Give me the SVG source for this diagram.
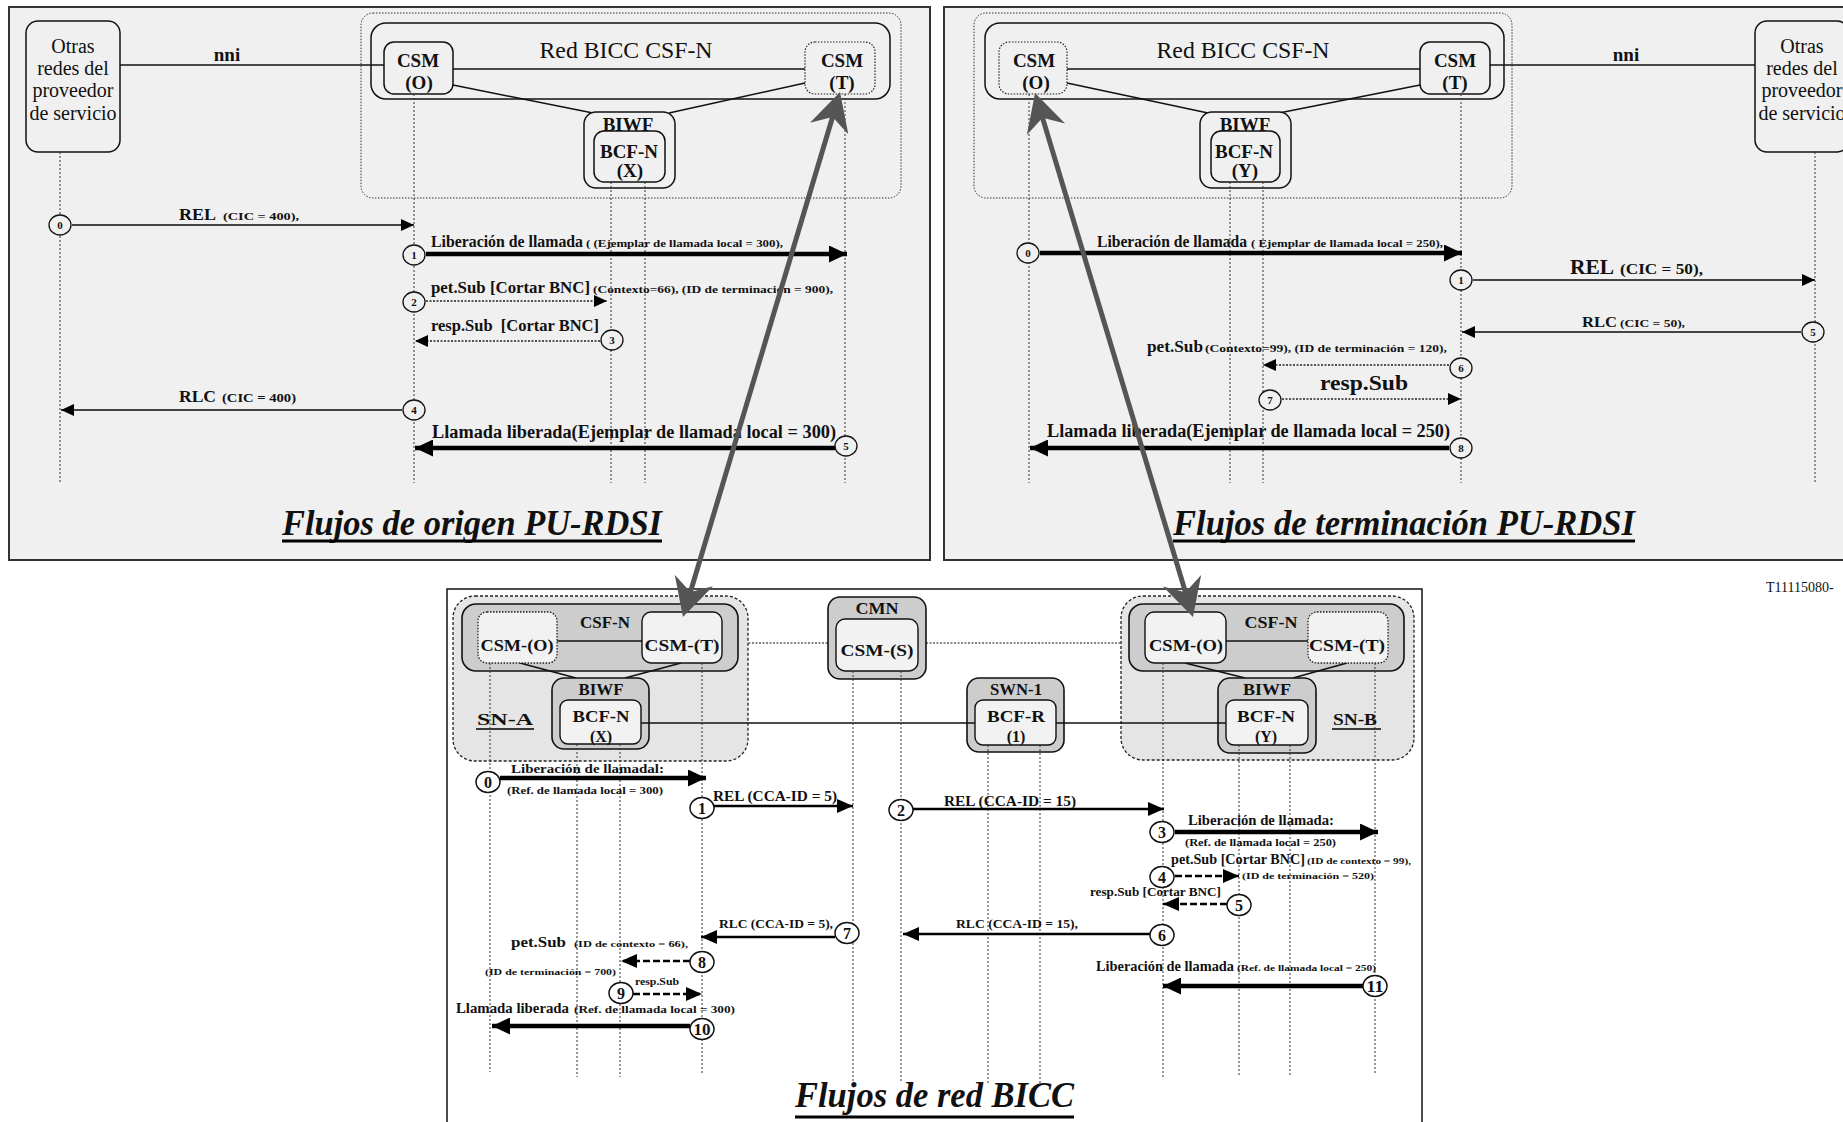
<svg xmlns="http://www.w3.org/2000/svg" width="1843" height="1122" viewBox="0 0 1843 1122">
  <style>
    text { font-family: "Liberation Serif", "Times New Roman", serif; fill: #111; }
    .b { font-weight: bold; }
    .t { font-weight: bold; font-style: italic; font-size: 35px; }
    .panel { fill: #f0f0f0; stroke: #333; stroke-width: 2; }
    .box { fill: #f0f0f0; stroke: #111; stroke-width: 1.5; }
    .dbox { fill: #f0f0f0; stroke: #222; stroke-width: 1.2; stroke-dasharray: 1.5 1.5; }
    .area { fill: none; stroke: #333; stroke-width: 1; stroke-dasharray: 1.5 1.5; }
    .sn { fill: #e5e5e5; stroke: #222; stroke-width: 1.3; stroke-dasharray: 3 2; }
    .gbox { fill: #cdcdcd; stroke: #111; stroke-width: 1.6; }
    .wbox { fill: #f2f2f2; stroke: #111; stroke-width: 1.4; }
    .wdbox { fill: #f2f2f2; stroke: #222; stroke-width: 1.3; stroke-dasharray: 1.5 1.5; }
    .link { stroke: #111; stroke-width: 1.5; fill: none; }
    .dlink { stroke: #111; stroke-width: 1.2; stroke-dasharray: 2 1.5; fill: none; }
    .ll { stroke: #333; stroke-width: 1; stroke-dasharray: 2 2; fill: none; }
    .thin { stroke: #444; stroke-width: 2; fill: none; marker-end: url(#ah); }
    .thick { stroke: #000; stroke-width: 4.5; fill: none; marker-end: url(#aht); }
    .dot { stroke: #222; stroke-width: 1.6; stroke-dasharray: 2 1.5; fill: none; marker-end: url(#ah); }
    .med { stroke: #000; stroke-width: 2.6; fill: none; marker-end: url(#ahm); }
    .dash { stroke: #000; stroke-width: 2.5; stroke-dasharray: 7 3; fill: none; marker-end: url(#ahm); }
    .big { stroke: #555; stroke-width: 5; fill: none; marker-start: url(#bigh); marker-end: url(#bigh); }
    .n1 { fill: #f0f0f0; stroke: #111; stroke-width: 1.3; }
    .n2 { fill: #fff; stroke: #111; stroke-width: 1.5; }
    .ul { stroke: #000; stroke-width: 3; }
  </style>
  <defs>
    <marker id="ah" viewBox="0 0 13 12" refX="13" refY="6" markerWidth="13" markerHeight="12" markerUnits="userSpaceOnUse" orient="auto">
      <path d="M0,0 L13,6 L0,12 z" fill="#000"/>
    </marker>
    <marker id="ahm" viewBox="0 0 16 14" refX="16" refY="7" markerWidth="16" markerHeight="14" markerUnits="userSpaceOnUse" orient="auto">
      <path d="M0,0 L16,7 L0,14 z" fill="#000"/>
    </marker>
    <marker id="aht" viewBox="0 0 18 17" refX="18" refY="8.5" markerWidth="18" markerHeight="17" markerUnits="userSpaceOnUse" orient="auto">
      <path d="M0,0 L18,8.5 L0,17 z" fill="#000"/>
    </marker>
    <marker id="bigh" viewBox="-20 -22 42 44" refX="0" refY="0" markerWidth="42" markerHeight="44" markerUnits="userSpaceOnUse" orient="auto-start-reverse">
      <path d="M20,0 L-18,-20 L-6,0 L-18,20 z" fill="#555"/>
    </marker>
  </defs>

  <rect width="1843" height="1122" fill="#fff"/>

  <!-- ===== Originating PU-RDSI flows ===== -->
  <rect class="panel" x="9" y="7" width="921" height="553"/>
  <rect class="area" x="361" y="13" width="540" height="185" rx="12"/>

  <g id="p1-otras">
    <rect class="box" x="26" y="21" width="94" height="131" rx="12"/>
    <text x="73" y="53" font-size="20" text-anchor="middle">Otras</text>
    <text x="73" y="75" font-size="20" text-anchor="middle">redes del</text>
    <text x="73" y="97" font-size="20" text-anchor="middle">proveedor</text>
    <text x="73" y="120" font-size="20" text-anchor="middle">de servicio</text>
  </g>
  <g id="p1-csfn">
    <rect class="box" x="371" y="23" width="519" height="76" rx="15"/>
    <text x="626" y="58" font-size="23" text-anchor="middle" textLength="173" lengthAdjust="spacingAndGlyphs">Red BICC CSF-N</text>
  </g>
  <g id="p1-links">
    <line class="link" x1="120" y1="65" x2="384" y2="65"/>
    <line class="link" x1="453" y1="69" x2="805" y2="69"/>
    <line class="link" x1="453" y1="85" x2="593" y2="113"/>
    <line class="link" x1="805" y1="83" x2="669" y2="113"/>
    <text x="227" y="61" class="b" font-size="19" text-anchor="middle">nni</text>
  </g>
  <g id="p1-csm-o">
    <rect class="box" x="384" y="42" width="69" height="52" rx="10"/>
    <text x="418" y="67" class="b" font-size="19" text-anchor="middle">CSM</text>
    <text x="419" y="89" class="b" font-size="19" text-anchor="middle">(O)</text>
  </g>
  <g id="p1-csm-t">
    <rect class="dbox" x="805" y="42" width="70" height="52" rx="10"/>
    <text x="842" y="67" class="b" font-size="19" text-anchor="middle">CSM</text>
    <text x="842" y="89" class="b" font-size="19" text-anchor="middle">(T)</text>
  </g>
  <g id="p1-biwf">
    <rect class="box" x="584" y="112" width="91" height="76" rx="12"/>
    <text x="628" y="131" class="b" font-size="19" text-anchor="middle">BIWF</text>
    <rect class="box" x="594" y="131" width="71" height="51" rx="10"/>
    <text x="629" y="158" class="b" font-size="19" text-anchor="middle">BCF-N</text>
    <text x="630" y="177" class="b" font-size="19" text-anchor="middle">(X)</text>
  </g>

  <g id="p1-lifelines">
    <line class="ll" x1="60" y1="152" x2="60" y2="483"/>
    <line class="ll" x1="414" y1="94" x2="414" y2="483"/>
    <line class="ll" x1="611" y1="182" x2="611" y2="483"/>
    <line class="ll" x1="645" y1="182" x2="645" y2="483"/>
    <line class="ll" x1="845" y1="94" x2="845" y2="483"/>
  </g>

  <g id="p1-messages">
    <line class="thin" x1="72" y1="225" x2="414" y2="225"/>
    <line class="thick" x1="426" y1="254" x2="847" y2="254"/>
    <line class="dot" x1="426" y1="301" x2="607" y2="301"/>
    <line class="dot" x1="600" y1="341" x2="415" y2="341"/>
    <line class="thin" x1="402" y1="410" x2="61" y2="410"/>
    <line class="thick" x1="835" y1="448" x2="415" y2="448"/>
    <ellipse class="n1" cx="60" cy="225" rx="11" ry="10"/><text x="60" y="229" class="b" font-size="11" text-anchor="middle">0</text>
    <ellipse class="n1" cx="414" cy="255" rx="11" ry="10"/><text x="414" y="259" class="b" font-size="11" text-anchor="middle">1</text>
    <ellipse class="n1" cx="414" cy="302" rx="11" ry="10"/><text x="414" y="306" class="b" font-size="11" text-anchor="middle">2</text>
    <ellipse class="n1" cx="612" cy="340" rx="11" ry="10"/><text x="612" y="344" class="b" font-size="11" text-anchor="middle">3</text>
    <ellipse class="n1" cx="414" cy="410" rx="11" ry="10"/><text x="414" y="414" class="b" font-size="11" text-anchor="middle">4</text>
    <ellipse class="n1" cx="846" cy="446" rx="11" ry="10"/><text x="846" y="450" class="b" font-size="11" text-anchor="middle">5</text>

    <text x="179" y="220" class="b" font-size="17" textLength="37" lengthAdjust="spacingAndGlyphs">REL</text>
    <text x="223" y="220" class="b" font-size="11" textLength="76" lengthAdjust="spacingAndGlyphs">(CIC = 400),</text>
    <text x="431" y="247" class="b" font-size="16" textLength="152" lengthAdjust="spacingAndGlyphs">Liberación de llamada</text>
    <text x="586" y="247" class="b" font-size="11" textLength="197" lengthAdjust="spacingAndGlyphs">( (Ejemplar de llamada local = 300),</text>
    <text x="431" y="293" class="b" font-size="17" textLength="159" lengthAdjust="spacingAndGlyphs">pet.Sub [Cortar BNC]</text>
    <text x="593" y="293" class="b" font-size="11" textLength="240" lengthAdjust="spacingAndGlyphs">(Contexto=66), (ID de terminación = 900),</text>
    <text x="431" y="331" class="b" font-size="17" textLength="168" lengthAdjust="spacingAndGlyphs" xml:space="preserve">resp.Sub  [Cortar BNC]</text>
    <text x="179" y="402" class="b" font-size="17" textLength="37" lengthAdjust="spacingAndGlyphs">RLC</text>
    <text x="222" y="402" class="b" font-size="12" textLength="74" lengthAdjust="spacingAndGlyphs">(CIC = 400)</text>
    <text x="432" y="438" class="b" font-size="18" textLength="404" lengthAdjust="spacingAndGlyphs">Llamada liberada(Ejemplar de llamada local = 300)</text>
  </g>
  <text x="282" y="535" class="t" textLength="380" lengthAdjust="spacingAndGlyphs">Flujos de origen PU-RDSI</text>
  <line class="ul" x1="282" y1="541" x2="662" y2="541"/>

  <!-- ===== Terminating PU-RDSI flows ===== -->
  <rect class="panel" x="944" y="7" width="910" height="553"/>
  <rect class="area" x="974" y="13" width="538" height="185" rx="12"/>

  <g id="p2-csfn">
    <rect class="box" x="985" y="23" width="519" height="76" rx="15"/>
    <text x="1243" y="58" font-size="23" text-anchor="middle" textLength="173" lengthAdjust="spacingAndGlyphs">Red BICC CSF-N</text>
  </g>
  <g id="p2-links">
    <line class="link" x1="1067" y1="69" x2="1420" y2="69"/>
    <line class="link" x1="1490" y1="65" x2="1755" y2="65"/>
    <line class="link" x1="1067" y1="83" x2="1208" y2="113"/>
    <line class="link" x1="1420" y1="85" x2="1279" y2="113"/>
    <text x="1626" y="61" class="b" font-size="19" text-anchor="middle">nni</text>
  </g>
  <g id="p2-otras">
    <rect class="box" x="1755" y="21" width="94" height="131" rx="12"/>
    <text x="1802" y="53" font-size="20" text-anchor="middle">Otras</text>
    <text x="1802" y="75" font-size="20" text-anchor="middle">redes del</text>
    <text x="1802" y="97" font-size="20" text-anchor="middle">proveedor</text>
    <text x="1802" y="120" font-size="20" text-anchor="middle">de servicio</text>
  </g>
  <g id="p2-csm-o">
    <rect class="dbox" x="999" y="42" width="68" height="52" rx="10"/>
    <text x="1034" y="67" class="b" font-size="19" text-anchor="middle">CSM</text>
    <text x="1036" y="89" class="b" font-size="19" text-anchor="middle">(O)</text>
  </g>
  <g id="p2-csm-t">
    <rect class="box" x="1420" y="42" width="70" height="52" rx="10"/>
    <text x="1455" y="67" class="b" font-size="19" text-anchor="middle">CSM</text>
    <text x="1455" y="89" class="b" font-size="19" text-anchor="middle">(T)</text>
  </g>
  <g id="p2-biwf">
    <rect class="box" x="1200" y="112" width="91" height="76" rx="12"/>
    <text x="1245" y="131" class="b" font-size="19" text-anchor="middle">BIWF</text>
    <rect class="box" x="1211" y="131" width="69" height="51" rx="10"/>
    <text x="1244" y="158" class="b" font-size="19" text-anchor="middle">BCF-N</text>
    <text x="1245" y="177" class="b" font-size="19" text-anchor="middle">(Y)</text>
  </g>

  <g id="p2-lifelines">
    <line class="ll" x1="1029" y1="94" x2="1029" y2="483"/>
    <line class="ll" x1="1230" y1="182" x2="1230" y2="483"/>
    <line class="ll" x1="1263" y1="182" x2="1263" y2="483"/>
    <line class="ll" x1="1461" y1="94" x2="1461" y2="483"/>
    <line class="ll" x1="1815" y1="152" x2="1815" y2="483"/>
  </g>

  <g id="p2-messages">
    <line class="thick" x1="1040" y1="253" x2="1462" y2="253"/>
    <line class="thin" x1="1473" y1="280" x2="1815" y2="280"/>
    <line class="thin" x1="1801" y1="332" x2="1462" y2="332"/>
    <line class="dot" x1="1449" y1="365" x2="1263" y2="365"/>
    <line class="dot" x1="1282" y1="399" x2="1461" y2="399"/>
    <line class="thick" x1="1449" y1="448" x2="1030" y2="448"/>
    <ellipse class="n1" cx="1028" cy="253" rx="11" ry="10"/><text x="1028" y="257" class="b" font-size="11" text-anchor="middle">0</text>
    <ellipse class="n1" cx="1461" cy="280" rx="11" ry="10"/><text x="1461" y="284" class="b" font-size="11" text-anchor="middle">1</text>
    <ellipse class="n1" cx="1813" cy="332" rx="11" ry="10"/><text x="1813" y="336" class="b" font-size="11" text-anchor="middle">5</text>
    <ellipse class="n1" cx="1461" cy="368" rx="11" ry="10"/><text x="1461" y="372" class="b" font-size="11" text-anchor="middle">6</text>
    <ellipse class="n1" cx="1270" cy="400" rx="11" ry="10"/><text x="1270" y="404" class="b" font-size="11" text-anchor="middle">7</text>
    <ellipse class="n1" cx="1461" cy="448" rx="11" ry="10"/><text x="1461" y="452" class="b" font-size="11" text-anchor="middle">8</text>

    <text x="1097" y="247" class="b" font-size="16" textLength="150" lengthAdjust="spacingAndGlyphs">Liberación de llamada</text>
    <text x="1251" y="247" class="b" font-size="11" textLength="192" lengthAdjust="spacingAndGlyphs">( Ejemplar de llamada local = 250),</text>
    <text x="1570" y="274" class="b" font-size="22" textLength="44" lengthAdjust="spacingAndGlyphs">REL</text>
    <text x="1620" y="274" class="b" font-size="14" textLength="83" lengthAdjust="spacingAndGlyphs">(CIC = 50),</text>
    <text x="1582" y="327" class="b" font-size="15" textLength="35" lengthAdjust="spacingAndGlyphs">RLC</text>
    <text x="1620" y="327" class="b" font-size="10" textLength="65" lengthAdjust="spacingAndGlyphs">(CIC = 50),</text>
    <text x="1147" y="352" class="b" font-size="16" textLength="56" lengthAdjust="spacingAndGlyphs">pet.Sub</text>
    <text x="1205" y="352" class="b" font-size="11" textLength="242" lengthAdjust="spacingAndGlyphs">(Contexto=99), (ID de terminación = 120),</text>
    <text x="1320" y="390" class="b" font-size="22" textLength="88" lengthAdjust="spacingAndGlyphs">resp.Sub</text>
    <text x="1047" y="437" class="b" font-size="18" textLength="403" lengthAdjust="spacingAndGlyphs">Llamada liberada(Ejemplar de llamada local = 250)</text>
  </g>
  <text x="1173" y="535" class="t" textLength="462" lengthAdjust="spacingAndGlyphs">Flujos de terminación PU-RDSI</text>
  <line class="ul" x1="1173" y1="541" x2="1635" y2="541"/>

  <text x="1766" y="592" font-size="14">T11115080-</text>

  <!-- ===== BICC network flows ===== -->
  <rect x="447" y="589" width="975" height="545" fill="#fff" stroke="#111" stroke-width="1.5"/>

  <g id="bicc-links">
    <line class="dlink" x1="738" y1="643" x2="828" y2="643"/>
    <line class="dlink" x1="926" y1="643" x2="1129" y2="643"/>
  </g>

  <g id="sn-a">
    <rect class="sn" x="453" y="596" width="295" height="165" rx="22"/>
    <rect class="gbox" x="462" y="604" width="276" height="67" rx="14"/>
    <text x="605" y="628" class="b" font-size="17" text-anchor="middle" textLength="50" lengthAdjust="spacingAndGlyphs">CSF-N</text>
    <line class="link" x1="557" y1="641" x2="642" y2="641"/>
    <line class="link" x1="520" y1="663" x2="576" y2="678"/>
    <line class="link" x1="681" y1="663" x2="625" y2="678"/>
    <text x="505" y="725" class="b" font-size="16" text-anchor="middle" textLength="56" lengthAdjust="spacingAndGlyphs">SN-A</text>
    <line x1="476" y1="729" x2="534" y2="729" stroke="#000" stroke-width="1.5"/>
  </g>
  <g id="sn-a-csm-o">
    <rect class="wdbox" x="478" y="612" width="79" height="51" rx="9"/>
    <text x="517" y="651" class="b" font-size="17" text-anchor="middle" textLength="73" lengthAdjust="spacingAndGlyphs">CSM-(O)</text>
  </g>
  <g id="sn-a-csm-t">
    <rect class="wbox" x="642" y="612" width="80" height="51" rx="9"/>
    <text x="682" y="651" class="b" font-size="17" text-anchor="middle" textLength="75" lengthAdjust="spacingAndGlyphs">CSM-(T)</text>
  </g>
  <g id="sn-a-biwf">
    <rect class="gbox" x="552" y="678" width="97" height="71" rx="12"/>
    <text x="601" y="695" class="b" font-size="16" text-anchor="middle" textLength="45" lengthAdjust="spacingAndGlyphs">BIWF</text>
    <rect class="wbox" x="560" y="700" width="81" height="44" rx="8"/>
    <text x="601" y="722" class="b" font-size="16" text-anchor="middle" textLength="57" lengthAdjust="spacingAndGlyphs">BCF-N</text>
    <text x="601" y="742" class="b" font-size="16" text-anchor="middle">(X)</text>
  </g>

  <g id="cmn">
    <rect class="gbox" x="828" y="597" width="98" height="82" rx="12"/>
    <text x="877" y="614" class="b" font-size="16" text-anchor="middle" textLength="43" lengthAdjust="spacingAndGlyphs">CMN</text>
    <rect class="wbox" x="836" y="619" width="82" height="52" rx="9"/>
    <text x="877" y="656" class="b" font-size="17" text-anchor="middle" textLength="73" lengthAdjust="spacingAndGlyphs">CSM-(S)</text>
  </g>

  <g id="swn-1">
    <rect class="gbox" x="967" y="678" width="97" height="74" rx="12"/>
    <text x="1016" y="695" class="b" font-size="16" text-anchor="middle" textLength="52" lengthAdjust="spacingAndGlyphs">SWN-1</text>
    <rect class="wbox" x="975" y="700" width="81" height="45" rx="8"/>
    <text x="1016" y="722" class="b" font-size="16" text-anchor="middle" textLength="58" lengthAdjust="spacingAndGlyphs">BCF-R</text>
    <text x="1016" y="742" class="b" font-size="16" text-anchor="middle">(1)</text>
  </g>

  <g id="sn-b">
    <rect class="sn" x="1121" y="596" width="293" height="164" rx="22"/>
    <rect class="gbox" x="1129" y="604" width="275" height="67" rx="14"/>
    <text x="1271" y="628" class="b" font-size="17" text-anchor="middle" textLength="53" lengthAdjust="spacingAndGlyphs">CSF-N</text>
    <line class="link" x1="1226" y1="641" x2="1308" y2="641"/>
    <line class="link" x1="1185" y1="663" x2="1245" y2="678"/>
    <line class="link" x1="1347" y1="663" x2="1293" y2="678"/>
    <text x="1355" y="725" class="b" font-size="16" text-anchor="middle" textLength="44" lengthAdjust="spacingAndGlyphs">SN-B</text>
    <line x1="1332" y1="729" x2="1381" y2="729" stroke="#000" stroke-width="1.5"/>
  </g>
  <g id="sn-b-csm-o">
    <rect class="wbox" x="1145" y="612" width="81" height="51" rx="9"/>
    <text x="1186" y="651" class="b" font-size="17" text-anchor="middle" textLength="74" lengthAdjust="spacingAndGlyphs">CSM-(O)</text>
  </g>
  <g id="sn-b-csm-t">
    <rect class="wdbox" x="1308" y="612" width="80" height="51" rx="9"/>
    <text x="1347" y="651" class="b" font-size="17" text-anchor="middle" textLength="76" lengthAdjust="spacingAndGlyphs">CSM-(T)</text>
  </g>
  <g id="sn-b-biwf">
    <rect class="gbox" x="1218" y="678" width="98" height="75" rx="12"/>
    <text x="1267" y="695" class="b" font-size="16" text-anchor="middle" textLength="48" lengthAdjust="spacingAndGlyphs">BIWF</text>
    <rect class="wbox" x="1226" y="700" width="82" height="45" rx="8"/>
    <text x="1266" y="722" class="b" font-size="16" text-anchor="middle" textLength="58" lengthAdjust="spacingAndGlyphs">BCF-N</text>
    <text x="1266" y="742" class="b" font-size="16" text-anchor="middle">(Y)</text>
  </g>

  <g id="bearer-links">
    <line class="link" x1="641" y1="723" x2="975" y2="723"/>
    <line class="link" x1="1056" y1="723" x2="1226" y2="723"/>
  </g>

  <g id="bicc-lifelines">
    <line class="ll" x1="490" y1="663" x2="490" y2="1072"/>
    <line class="ll" x1="577" y1="744" x2="577" y2="1077"/>
    <line class="ll" x1="620" y1="744" x2="620" y2="1077"/>
    <line class="ll" x1="702" y1="663" x2="702" y2="1073"/>
    <line class="ll" x1="853" y1="671" x2="853" y2="1083"/>
    <line class="ll" x1="901" y1="671" x2="901" y2="1083"/>
    <line class="ll" x1="988" y1="745" x2="988" y2="1083"/>
    <line class="ll" x1="1040" y1="745" x2="1040" y2="1083"/>
    <line class="ll" x1="1163" y1="663" x2="1163" y2="1077"/>
    <line class="ll" x1="1239" y1="745" x2="1239" y2="1077"/>
    <line class="ll" x1="1290" y1="745" x2="1290" y2="1077"/>
    <line class="ll" x1="1375" y1="663" x2="1375" y2="1075"/>
  </g>

  <g id="bicc-messages">
    <line class="thick" x1="500" y1="778" x2="706" y2="778"/>
    <line class="med" x1="714" y1="806" x2="853" y2="806"/>
    <line class="med" x1="913" y1="809" x2="1164" y2="809"/>
    <line class="thick" x1="1175" y1="832" x2="1378" y2="832"/>
    <line class="dash" x1="1175" y1="876" x2="1239" y2="876"/>
    <line class="dash" x1="1227" y1="904" x2="1163" y2="904"/>
    <line class="med" x1="1151" y1="934" x2="903" y2="934"/>
    <line class="med" x1="835" y1="937" x2="701" y2="937"/>
    <line class="dash" x1="690" y1="961" x2="621" y2="961"/>
    <line class="dash" x1="633" y1="994" x2="702" y2="994"/>
    <line class="thick" x1="690" y1="1026" x2="492" y2="1026"/>
    <line class="thick" x1="1363" y1="986" x2="1163" y2="986"/>

    <ellipse class="n2" cx="488" cy="782" rx="12" ry="10.5"/><text x="488" y="788" class="b" font-size="16" text-anchor="middle">0</text>
    <ellipse class="n2" cx="702" cy="808" rx="12" ry="10.5"/><text x="702" y="814" class="b" font-size="16" text-anchor="middle">1</text>
    <ellipse class="n2" cx="901" cy="810" rx="12" ry="10.5"/><text x="901" y="816" class="b" font-size="16" text-anchor="middle">2</text>
    <ellipse class="n2" cx="1162" cy="832" rx="12" ry="10.5"/><text x="1162" y="838" class="b" font-size="16" text-anchor="middle">3</text>
    <ellipse class="n2" cx="1162" cy="877" rx="12" ry="10.5"/><text x="1162" y="883" class="b" font-size="16" text-anchor="middle">4</text>
    <ellipse class="n2" cx="1239" cy="905" rx="12" ry="10.5"/><text x="1239" y="911" class="b" font-size="16" text-anchor="middle">5</text>
    <ellipse class="n2" cx="1162" cy="935" rx="12" ry="10.5"/><text x="1162" y="941" class="b" font-size="16" text-anchor="middle">6</text>
    <ellipse class="n2" cx="847" cy="933" rx="12" ry="10.5"/><text x="847" y="939" class="b" font-size="16" text-anchor="middle">7</text>
    <ellipse class="n2" cx="702" cy="962" rx="12" ry="10.5"/><text x="702" y="968" class="b" font-size="16" text-anchor="middle">8</text>
    <ellipse class="n2" cx="621" cy="993" rx="12" ry="10.5"/><text x="621" y="999" class="b" font-size="16" text-anchor="middle">9</text>
    <ellipse class="n2" cx="702" cy="1029" rx="12" ry="10.5"/><text x="702" y="1035" class="b" font-size="16" text-anchor="middle" textLength="17" lengthAdjust="spacingAndGlyphs">10</text>
    <ellipse class="n2" cx="1375" cy="986" rx="12" ry="10.5"/><text x="1375" y="992" class="b" font-size="16" text-anchor="middle" textLength="17" lengthAdjust="spacingAndGlyphs">11</text>

    <text x="511" y="773" class="b" font-size="13" textLength="153" lengthAdjust="spacingAndGlyphs">Liberación de llamadal:</text>
    <text x="507" y="794" class="b" font-size="10" textLength="156" lengthAdjust="spacingAndGlyphs">(Ref. de llamada local = 300)</text>
    <text x="713" y="801" class="b" font-size="15" textLength="124" lengthAdjust="spacingAndGlyphs">REL (CCA-ID = 5)</text>
    <text x="944" y="806" class="b" font-size="15" textLength="132" lengthAdjust="spacingAndGlyphs">REL (CCA-ID = 15)</text>
    <text x="1188" y="825" class="b" font-size="14" textLength="146" lengthAdjust="spacingAndGlyphs">Liberación de llamada:</text>
    <text x="1185" y="846" class="b" font-size="10" textLength="151" lengthAdjust="spacingAndGlyphs">(Ref. de llamada local = 250)</text>
    <text x="1171" y="864" class="b" font-size="14" textLength="134" lengthAdjust="spacingAndGlyphs">pet.Sub [Cortar BNC]</text>
    <text x="1307" y="864" class="b" font-size="9" textLength="104" lengthAdjust="spacingAndGlyphs">(ID de contexto = 99),</text>
    <text x="1242" y="879" class="b" font-size="9" textLength="132" lengthAdjust="spacingAndGlyphs">(ID de terminación = 520)</text>
    <text x="1090" y="896" class="b" font-size="12" textLength="131" lengthAdjust="spacingAndGlyphs">resp.Sub [Cortar BNC]</text>
    <text x="719" y="928" class="b" font-size="13" textLength="114" lengthAdjust="spacingAndGlyphs">RLC (CCA-ID = 5),</text>
    <text x="956" y="928" class="b" font-size="13" textLength="122" lengthAdjust="spacingAndGlyphs">RLC (CCA-ID = 15),</text>
    <text x="511" y="947" class="b" font-size="15" textLength="55" lengthAdjust="spacingAndGlyphs">pet.Sub</text>
    <text x="574" y="947" class="b" font-size="9" textLength="114" lengthAdjust="spacingAndGlyphs">(ID de contexto = 66),</text>
    <text x="1096" y="971" class="b" font-size="14" textLength="138" lengthAdjust="spacingAndGlyphs">Liberación de llamada</text>
    <text x="1237" y="971" class="b" font-size="9" textLength="139" lengthAdjust="spacingAndGlyphs">(Ref. de llamada local = 250)</text>
    <text x="485" y="975" class="b" font-size="9" textLength="131" lengthAdjust="spacingAndGlyphs">(ID de terminación = 700)</text>
    <text x="635" y="985" class="b" font-size="10" textLength="44" lengthAdjust="spacingAndGlyphs">resp.Sub</text>
    <text x="456" y="1013" class="b" font-size="15" textLength="113" lengthAdjust="spacingAndGlyphs">Llamada liberada</text>
    <text x="574" y="1013" class="b" font-size="11" textLength="161" lengthAdjust="spacingAndGlyphs">(Ref. de llamada local = 300)</text>
  </g>
  <text x="795" y="1107" class="t" textLength="279" lengthAdjust="spacingAndGlyphs">Flujos de red BICC</text>
  <line class="ul" x1="795" y1="1117" x2="1074" y2="1117"/>

  <!-- correspondence between the PU-RDSI views and the BICC network view -->
  <g id="correspondence">
    <line class="big" x1="834.3" y1="111.2" x2="688.7" y2="597.8"/>
    <line class="big" x1="1040.8" y1="112.1" x2="1187.2" y2="597.9"/>
  </g>
</svg>
